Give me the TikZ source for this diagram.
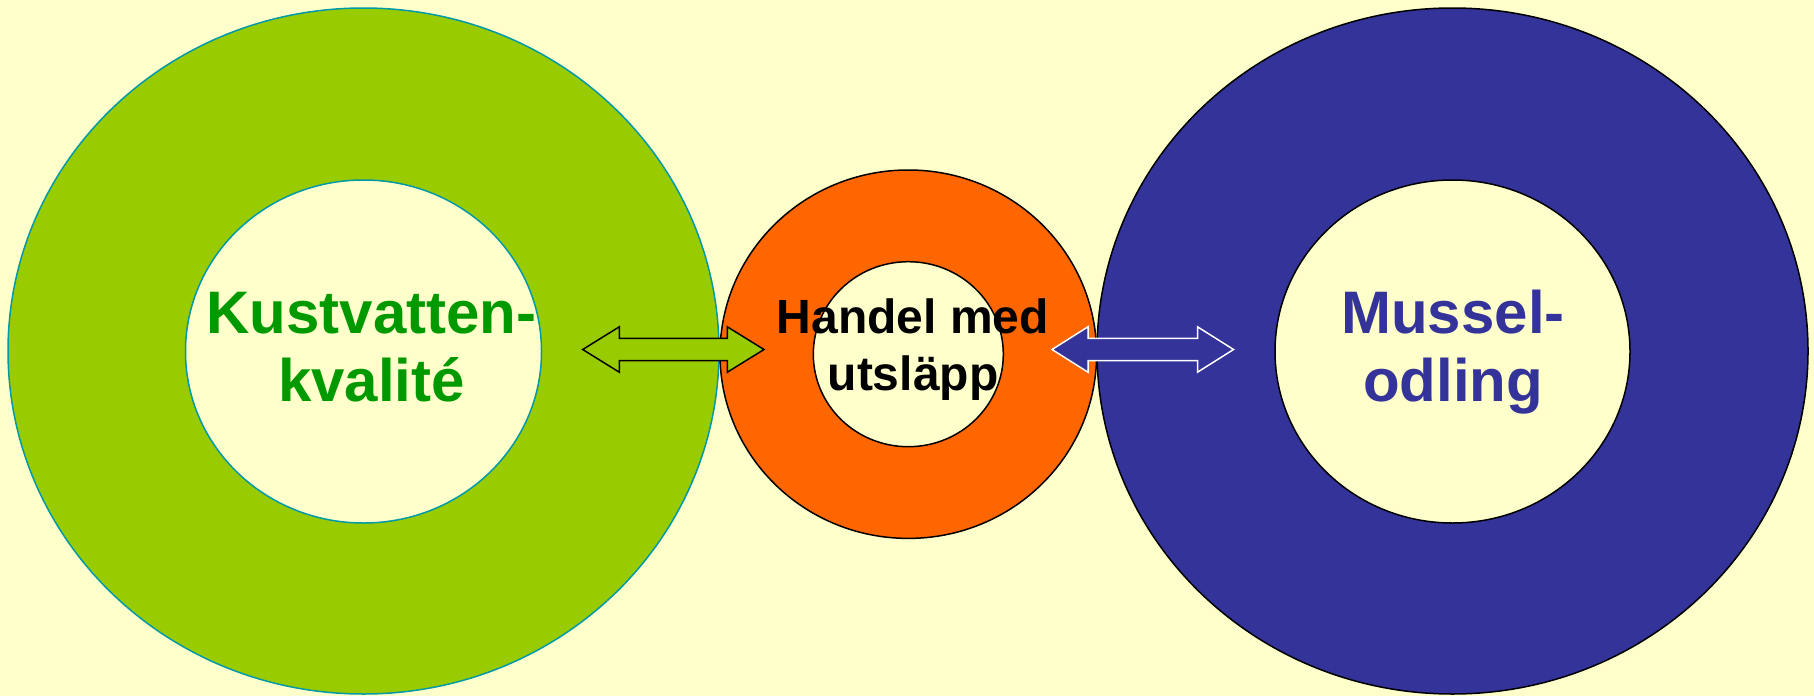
\documentclass[tikz,border=0pt]{standalone}
\usepackage{fontspec}
\setmainfont{Liberation Sans}
\usetikzlibrary{shapes.geometric}
\definecolor{bg}{HTML}{FFFFCC}
\definecolor{lime}{HTML}{99CC00}
\definecolor{tealline}{HTML}{0099A8}
\definecolor{dkgreen}{HTML}{009900}
\definecolor{orng}{HTML}{FF6600}
\definecolor{navyblue}{HTML}{333399}
\begin{document}
\begin{tikzpicture}[x=1pt,y=-1pt,
  ring/.style={ellipse, inner sep=0pt, outer sep=0pt, line width=1.5pt},
  hole/.style={ring, fill=bg},
  bigtext/.style={inner sep=0pt, anchor=base, font=\bfseries\fontsize{60}{68}\selectfont},
  midtext/.style={inner sep=0pt, anchor=base, font=\bfseries\fontsize{48}{57}\selectfont},
  blockarrow/.style={line width=1.5pt, line join=miter}]
\fill[bg] (0,0) rectangle (1814,696);
\useasboundingbox (0,0) rectangle (1814,696);

% left rings
\node[ring, fill=lime, draw=tealline, minimum width=711pt, minimum height=686pt] (kvOuter) at (363.5,351) {};
\node[hole, draw=tealline, minimum width=356pt, minimum height=343pt] (kvInner) at (363.5,351.5) {};

% middle rings
\node[ring, fill=orng, draw=black, minimum width=376.6pt, minimum height=368.4pt] (haOuter) at (908.3,354.2) {};
\node[hole, draw=black, minimum width=190pt, minimum height=185pt] (haInner) at (908.3,354.2) {};

% right rings
\node[ring, fill=navyblue, draw=black, minimum width=711pt, minimum height=686pt] (muOuter) at (1452.5,351) {};
\node[hole, draw=black, minimum width=355pt, minimum height=343pt] (muInner) at (1452.5,351.5) {};

% arrows
\coordinate (laTip) at (582.7,349.5);
\coordinate (raTip) at (1052,349.5);
\draw[blockarrow, fill=lime, draw=black] (laTip) -- ++(36.6,-22.7) -- ++(0,11.5) -- ++(108,0) -- ++(0,-11.5)
  -- ++(36.7,22.7) -- ++(-36.7,22.7) -- ++(0,-11.5) -- ++(-108,0) -- ++(0,11.5) -- cycle;
\draw[blockarrow, fill=navyblue, draw=white] (raTip) -- ++(36,-22.7) -- ++(0,11.5) -- ++(109.5,0) -- ++(0,-11.5)
  -- ++(36,22.7) -- ++(-36,22.7) -- ++(0,-11.5) -- ++(-109.5,0) -- ++(0,11.5) -- cycle;

% texts
\node[bigtext, text=dkgreen] (kvText) at (371.5,333) {\begin{tabular}[t]{@{}c@{}}Kustvatten-\\kvalité\end{tabular}};
\node[midtext, text=black] (haText) at (913,333.3) {\begin{tabular}[t]{@{}c@{}}Handel med\\utsläpp\end{tabular}};
\node[bigtext, text=navyblue] (muText) at (1453,333) {\begin{tabular}[t]{@{}c@{}}Mussel-\\odling\end{tabular}};
\end{tikzpicture}
\end{document}
